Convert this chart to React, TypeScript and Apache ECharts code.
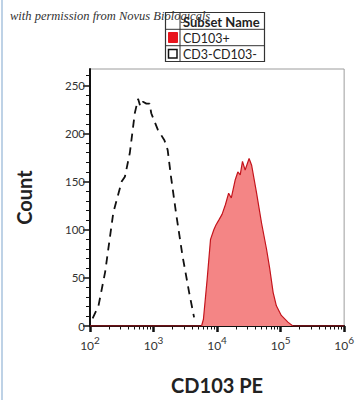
import React, { useEffect, useRef } from "react";
import * as echarts from "echarts";

// CD3-CD103- (dashed black histogram)
const negX = [110, 136, 173, 233, 315, 354, 424, 507, 571, 620, 683, 771, 867, 921, 1167, 1483, 1668, 1884, 2253, 2856, 3631, 4345];
const negY = [8, 21, 56, 118, 150, 155, 180, 221, 236, 228, 233, 231, 231, 221, 204, 193, 183, 155, 118, 73, 35, 9];

// CD103+ (red filled histogram)
const posX = [100, 5700, 6100, 6990, 7890, 8890, 9600, 10640, 11980, 13520, 15210, 16750, 19330, 21230, 23130, 25120, 27670, 31920, 35000, 41880, 50100, 59980, 67650, 76200, 85760, 102600, 130300, 156000, 1000000];
const posY = [0, 0, 7, 49, 90, 100, 105, 110, 116, 126, 138, 133, 152, 160, 157, 171, 162, 174, 167, 138, 107, 80, 59, 35, 21, 11, 4, 0, 0];

const yMajorTicks = [0, 50, 100, 150, 200, 250];
const yMinorTicks = [10, 20, 30, 40, 60, 70, 80, 90, 110, 120, 130, 140, 160, 170, 180, 190, 210, 220, 230, 240, 260];
const xMinorTicks = [200, 300, 400, 500, 600, 700, 800, 900, 2000, 3000, 4000, 5000, 6000, 7000, 8000, 9000, 20000, 30000, 40000, 50000, 60000, 70000, 80000, 90000, 200000, 300000, 400000, 500000, 600000, 700000, 800000, 900000];

const legendNames = ["CD103+", "CD3-CD103-"];

export default function App() {
  const ref = useRef<HTMLDivElement>(null);
  useEffect(() => {
    document.body.style.margin = "0";
    const chart = echarts.init(ref.current!, undefined, { renderer: "svg" });
    const font = "Lato";
    chart.setOption({
      animation: false,
      backgroundColor: "#ffffff",
      grid: { left: 90, right: 10, top: 69, bottom: 73, show: true, borderColor: "#9c9c9c", borderWidth: 1 },
      xAxis: [
        {
          type: "log",
          logBase: 10,
          min: 100,
          max: 1000000,
          name: "CD103 PE",
          nameLocation: "middle",
          nameGap: 49,
          nameTextStyle: { fontFamily: font, fontWeight: "bold", fontSize: 20, color: "#222" },
          axisLine: { show: true, lineStyle: { color: "#111", width: 2 } },
          axisTick: { show: true, length: 6, lineStyle: { color: "#111", width: 2.5 } },
          splitLine: { show: false },
          axisLabel: {
            margin: 9,
            formatter: (v: number) => `{b|10}{s|${Math.round(Math.log10(v))}}`,
            rich: {
              b: { fontFamily: font, fontSize: 12, color: "#333" },
              s: { fontFamily: font, fontSize: 10, color: "#333", padding: [0, 0, 10, 0] },
            },
          },
        },
        {
          type: "log",
          logBase: 10,
          min: 100,
          max: 1000000,
          position: "bottom",
          axisLine: { show: false },
          axisLabel: { show: false },
          splitLine: { show: false },
          axisTick: { show: true, length: 3.5, customValues: xMinorTicks, lineStyle: { color: "#111", width: 1 } },
        },
      ],
      yAxis: [
        {
          type: "value",
          min: 0,
          max: 267,
          interval: 50,
          position: "left",
          name: "Count",
          nameLocation: "middle",
          nameGap: 56,
          nameTextStyle: { fontFamily: font, fontWeight: "bold", fontSize: 20, color: "#222" },
          axisLine: { show: true, lineStyle: { color: "#111", width: 2 } },
          axisTick: { show: true, length: 7, customValues: yMajorTicks, lineStyle: { color: "#111", width: 1.5 } },
          axisLabel: { customValues: yMajorTicks, fontFamily: font, fontSize: 11.5, color: "#333", margin: 5 },
          splitLine: { show: false },
        },
        {
          type: "value",
          min: 0,
          max: 267,
          position: "left",
          axisLine: { show: false },
          axisLabel: { show: false },
          splitLine: { show: false },
          axisTick: { show: true, length: 4, customValues: yMinorTicks, lineStyle: { color: "#111", width: 1 } },
        },
      ],
      series: [
        {
          name: legendNames[0],
          type: "line",
          xAxisIndex: 0,
          yAxisIndex: 0,
          data: posX.map((x, i) => [x, posY[i]]),
          symbol: "none",
          lineStyle: { color: "#c4141c", width: 1.2 },
          areaStyle: { color: "#f48585", opacity: 1 },
          z: 3,
        },
        {
          name: legendNames[1],
          type: "line",
          xAxisIndex: 0,
          yAxisIndex: 0,
          data: negX.map((x, i) => [x, negY[i]]),
          symbol: "none",
          lineStyle: { color: "#111", width: 1.8, type: [8, 6] },
          z: 4,
        },
      ],
      graphic: [
        { type: "line", shape: { x1: 2, y1: 0, x2: 2, y2: 400 }, style: { stroke: "#a9c3de", lineWidth: 1.5 } },
        { type: "rect", shape: { x: 165.5, y: 12.5, width: 99, height: 49 }, style: { fill: "#fff", stroke: "#333", lineWidth: 1.2 }, z: 20 },
        { type: "line", shape: { x1: 180, y1: 12.5, x2: 180, y2: 61.5 }, style: { stroke: "#333", lineWidth: 1 }, z: 21 },
        { type: "line", shape: { x1: 165.5, y1: 29.3, x2: 264.5, y2: 29.3 }, style: { stroke: "#333", lineWidth: 1 }, z: 21 },
        { type: "line", shape: { x1: 165.5, y1: 45.7, x2: 264.5, y2: 45.7 }, style: { stroke: "#333", lineWidth: 1 }, z: 21 },
        { type: "rect", shape: { x: 168.5, y: 32.5, width: 9, height: 10 }, style: { fill: "#e8141c", stroke: "#e8141c" }, z: 22 },
        { type: "rect", shape: { x: 168.5, y: 49.5, width: 8.5, height: 8.5 }, style: { fill: "#fff", stroke: "#111", lineWidth: 1.5 }, z: 22 },
        { type: "text", x: 183, y: 21.5, style: { text: "Subset Name", font: `bold 13px ${font}`, fill: "#222", verticalAlign: "middle" }, z: 22 },
        { type: "text", x: 183, y: 38, style: { text: legendNames[0], font: `12.5px ${font}`, fill: "#222", verticalAlign: "middle" }, z: 22 },
        { type: "text", x: 183, y: 54.5, style: { text: legendNames[1], font: `12.5px ${font}`, fill: "#222", verticalAlign: "middle" }, z: 22 },
        {
          type: "text",
          left: 10,
          top: 9,
          style: { text: "with permission from Novus Biologicals", font: "italic 12.5px 'Liberation Serif'", fill: "#333" },
          z: 30,
        },
      ],
    });
    return () => chart.dispose();
  }, []);
  return <div ref={ref} style={{ width: 357, height: 400 }} />;
}
